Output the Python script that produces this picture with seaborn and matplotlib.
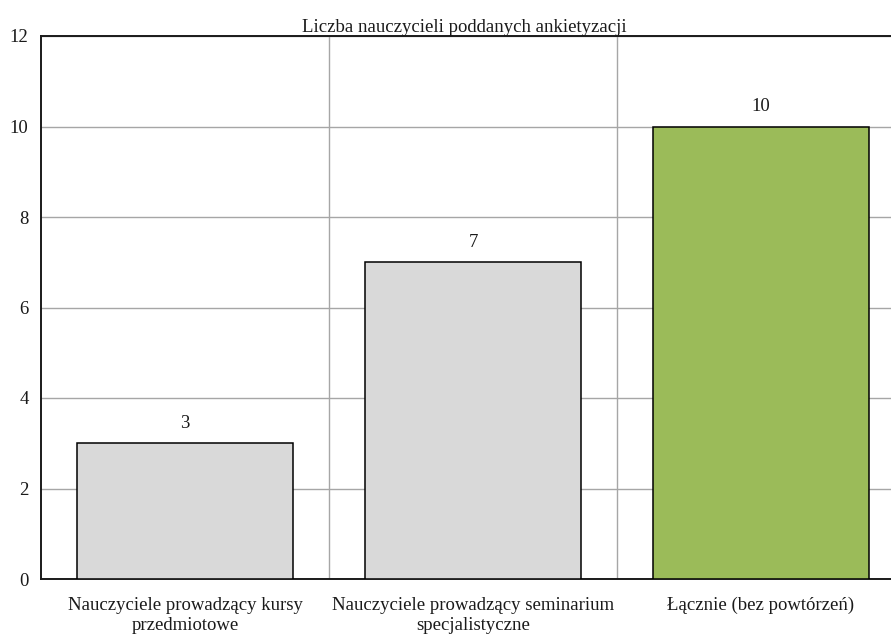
# Liczba nauczycieli poddanych ankietyzacji - bar chart

import pandas as pd
import numpy as np
import matplotlib.pyplot as plt
import seaborn as sns

# data
categories = ["Nauczyciele prowadzący kursy\nprzedmiotowe",
              "Nauczyciele prowadzący seminarium\nspecjalistyczne",
              "Łącznie (bez powtórzeń)"]
counts = [3, 7, 10]
bar_colors = ["#d9d9d9", "#d9d9d9", "#9bbb59"]
y_ticks = [0, 2, 4, 6, 8, 10, 12]
title = "Liczba nauczycieli poddanych ankietyzacji"

df = pd.DataFrame({"kategoria": categories, "liczba": counts})

sns.set_theme(style="white")
plt.rcParams["font.family"] = ["Liberation Serif", "DejaVu Serif"]

fig = plt.figure(figsize=(8.91, 6.37), dpi=100)
ax = fig.add_axes([41 / 891, 1 - 579 / 637, 864 / 891, 543 / 637])

sns.barplot(data=df, x="kategoria", y="liczba", hue="kategoria",
            palette=bar_colors, saturation=1, legend=False, width=0.75,
            edgecolor="black", linewidth=1.1, ax=ax, zorder=3)

for cont in ax.containers:
    ax.bar_label(cont, padding=8, fontsize=13.5, color="#1a1a1a")

ax.set_xlim(-0.5, len(categories) - 0.5)
ax.set_ylim(0, 12)
ax.set_yticks(y_ticks)

# grid: horizontal at ticks, vertical at category boundaries
ax.set_xticks(np.arange(len(categories)) + 0.5, minor=True)
ax.grid(axis="y", which="major", color="#a6a6a6", linewidth=1.0, zorder=0)
ax.grid(axis="x", which="minor", color="#a6a6a6", linewidth=1.0, zorder=0)
ax.grid(axis="x", which="major", visible=False)
ax.set_axisbelow(True)

for side in ["left", "top", "bottom"]:
    ax.spines[side].set_color("#1a1a1a")
    ax.spines[side].set_linewidth(1.4)
ax.spines["right"].set_visible(False)

ax.tick_params(axis="both", which="both", length=0, labelsize=13.5, colors="#1a1a1a")
ax.tick_params(axis="y", pad=9)
ax.tick_params(axis="x", pad=13)

ax.set_xlabel("")
ax.set_ylabel("")
ax.set_title(title, fontsize=13.5, pad=3, color="#1a1a1a", x=0.49)

fig.savefig("out.png", dpi=100)
